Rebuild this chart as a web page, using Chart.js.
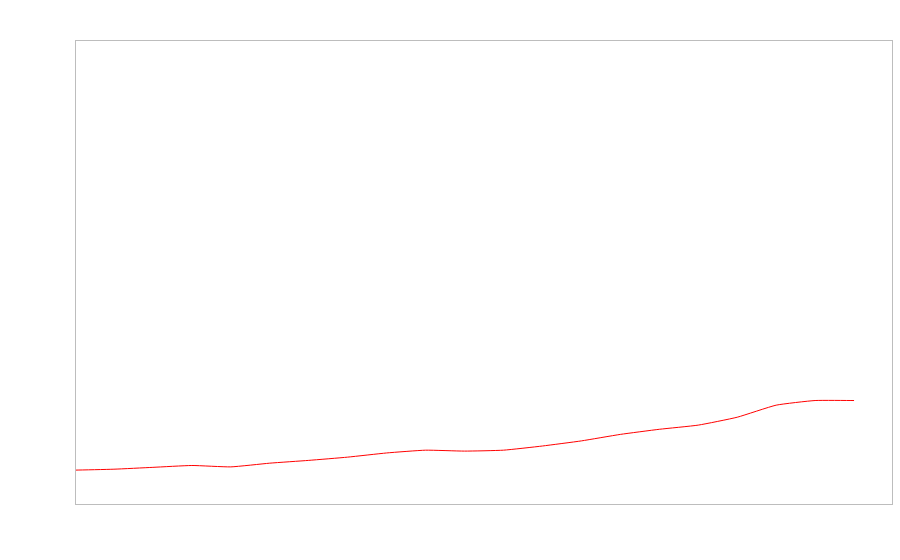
<!DOCTYPE html>
<html>
<head>
<meta charset="utf-8">
<script src="https://cdn.jsdelivr.net/npm/chart.js@4/dist/chart.umd.min.js"></script>
<style>
  html, body { margin: 0; padding: 0; background: #fff; }
  #wrap { width: 900px; height: 560px; }
</style>
</head>
<body>
<div id="wrap"><canvas id="chart"></canvas></div>
<script>
// categories (no labels are shown in the picture)
const labels = ['1', '2', '3', '4', '5', '6', '7', '8', '9', '10', '11',
                '12', '13', '14', '15', '16', '17', '18', '19', '20', '21', '22'];

// series values (last category has no value)
const values = [7.3, 7.5, 7.9, 8.3, 8.0, 8.8, 9.4, 10.1, 11.0, 11.6, 11.4,
                11.6, 12.5, 13.6, 15.0, 16.1, 17.0, 18.7, 21.3, 22.3, 22.3, null];

const yMin = 0;
const yMax = 100;

// draws the grey box round the plot area
const frame = {
    id: 'frame',
    afterDraw(chart) {
        const a = chart.chartArea;
        const ctx = chart.ctx;
        ctx.save();
        ctx.strokeStyle = '#bdbdbd';
        ctx.lineWidth = 1;
        ctx.strokeRect(a.left + 0.5, a.top + 0.5, a.right - a.left - 1, a.bottom - a.top);
        ctx.restore();
    }
};

new Chart(document.getElementById('chart').getContext('2d'), {
    type: 'line',
    data: {
        labels: labels,
        datasets: [{
            data: values,
            borderColor: '#ff0000',
            borderWidth: 1,
            pointRadius: 0,
            tension: 0.15,
            fill: false
        }]
    },
    options: {
        responsive: true,
        maintainAspectRatio: false,
        animation: false,
        layout: { padding: { left: 75, top: 40, right: 7, bottom: 56 } },
        plugins: { legend: { display: false }, tooltip: { enabled: false } },
        scales: {
            x: { display: false, offset: false },
            y: { display: false, min: yMin, max: yMax }
        }
    },
    plugins: [frame]
});
</script>
</body>
</html>
